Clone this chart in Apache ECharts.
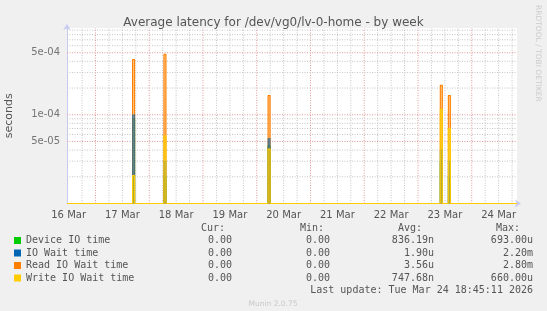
<!DOCTYPE html>
<html><head><meta charset="utf-8">
<script src="https://cdn.jsdelivr.net/npm/echarts@6/dist/echarts.min.js"></script>
<style>html,body{margin:0;padding:0;background:#f0f0f0}#c{width:547px;height:311px}</style>
</head><body><div id="c"></div>
<script>
// ---- data (hours since 16 Mar 00:00) ----
const seriesNames = ['Device IO time', 'IO Wait time', 'Read IO Wait time', 'Write IO Wait time'];
const seriesColors = ['#00cc00', '#0066b3', '#ff8000', '#ffcc00'];
const spikeHours = [41, 55, 101.5, 178.4, 182];
const deviceIO = [9.0e-5, 2.0e-5, 4.5e-5, 3.0e-5, 2.0e-5];
const ioWait   = [1.0e-4, 3.0e-5, 5.4e-5, 4.0e-5, 3.0e-5];
const readIO   = [4.2e-4, 4.8e-4, 1.65e-4, 2.15e-4, 1.65e-4];
const writeIO  = [2.07e-5, 5.8e-5, 4.1e-5, 1.15e-4, 7.0e-5];
const curVals = ['0.00', '0.00', '0.00', '0.00'];
const minVals = ['0.00', '0.00', '0.00', '0.00'];
const avgVals = ['836.19n', '1.90u', '3.56u', '747.68n'];
const maxVals = ['693.00u', '2.20m', '2.80m', '660.00u'];
const dayLabels = ['16 Mar', '17 Mar', '18 Mar', '19 Mar', '20 Mar', '21 Mar', '22 Mar', '23 Mar', '24 Mar'];
const dayLabelHours = [12, 36, 60, 84, 108, 132, 156, 180, 204];
const yLabelValues = [5e-5, 1e-4, 5e-4];
const yLabelTexts = ['5e-05', '1e-04', '5e-04'];
const yMinorValues = [2e-5, 3e-5, 4e-5, 6e-5, 7e-5, 8e-5, 9e-5, 2e-4, 3e-4, 4e-4, 6e-4, 7e-4, 8e-4, 9e-4];
const xMin = 11.27, xMax = 212.2;
const yMin = 1e-5, yMax = 9.5e-4;
const lastUpdate = 'Last update: Tue Mar 24 18:45:11 2026';
const FLOOR = yMin; // zero is clamped to the bottom of the log axis
const HALF = 0.45;

function spikeData(vals) {
  const d = [[xMin, FLOOR]];
  spikeHours.forEach((h, i) => {
    d.push([h - HALF, FLOOR], [h - HALF, vals[i]], [h + HALF, vals[i]], [h + HALF, FLOOR]);
  });
  d.push([xMax, FLOOR]);
  return d;
}

const minorGrid = { color: '#c4c4c4', type: [1, 1.5], width: 1 };
const minorGridV = { color: '#c4c4c4', type: [1, 1.5], width: 1 };
const majorGrid = { color: '#e29a9a', type: [1, 1.5], width: 1 };
const gridSeries = [];
for (let h = 18; h <= xMax; h += 6) {
  const isMajor = (h % 24 === 0);
  gridSeries.push({
    name: isMajor ? 'day grid' : 'six-hour grid',
    type: 'line', data: [[h, yMin], [h, yMax]], symbol: 'none', z: 1, silent: true,
    lineStyle: isMajor ? majorGrid : minorGridV
  });
}
yMinorValues.forEach(v => gridSeries.push({
  type: 'line', data: [[xMin, v], [xMax, v]], symbol: 'none', z: 1, silent: true, lineStyle: minorGrid
}));
yLabelValues.forEach(v => gridSeries.push({
  type: 'line', data: [[xMin, v], [xMax, v]], symbol: 'none', z: 2, silent: true, lineStyle: majorGrid
}));

const yLabelSeries = {
  type: 'scatter', data: yLabelValues.map(v => [xMin, v]), symbolSize: 0, silent: true, clip: false, z: 2,
  label: {
    show: true, position: 'left', distance: 7,
    formatter: p => yLabelTexts[p.dataIndex], color: '#555', fontSize: 10, fontFamily: 'DejaVu Sans'
  }
};

// drawing order: device, read, io wait (semi-transparent over read), write on top
const seriesZ = [3, 5, 4, 6];
const lineOpacity = [1, 0.55, 1, 1];
const areaOpacity = [0.45, 0.5, 0.45, 0.45];
const lineSeries = [deviceIO, ioWait, readIO, writeIO].map((vals, i) => ({
  name: seriesNames[i], type: 'line', data: spikeData(vals), symbol: 'none', z: seriesZ[i],
  lineStyle: { color: seriesColors[i], width: 1.1, opacity: lineOpacity[i] }, itemStyle: { color: seriesColors[i] },
  areaStyle: { origin: 'start', color: seriesColors[i], opacity: areaOpacity[i] }
}));

const font = 'DejaVu Sans Mono';
const txtColor = '#555';
const graphics = [];
const headerY = 228.5, rowY0 = 240.5, rowStep = 12.5;
[['Cur:', 225], ['Min:', 324], ['Avg:', 422], ['Max:', 520]].forEach(([t, x]) => {
  graphics.push({ type: 'text', x: x, y: headerY, style: { text: t, fill: txtColor, font: '10px ' + font, align: 'right', verticalAlign: 'middle' } });
});
seriesNames.forEach((n, i) => {
  const y = rowY0 + i * rowStep;
  graphics.push({ type: 'rect', shape: { x: 14, y: y - 3.5, width: 7, height: 7 }, style: { fill: seriesColors[i] } });
  graphics.push({ type: 'text', x: 26, y: y, style: { text: n, fill: txtColor, font: '10px ' + font, align: 'left', verticalAlign: 'middle' } });
  [[curVals, 232], [minVals, 330], [avgVals, 434], [maxVals, 533]].forEach(([arr, x]) => {
    graphics.push({ type: 'text', x: x, y: y, style: { text: arr[i], fill: txtColor, font: '10px ' + font, align: 'right', verticalAlign: 'middle' } });
  });
});
graphics.push({ type: 'text', x: 533, y: rowY0 + 4 * rowStep, style: { text: lastUpdate, fill: txtColor, font: '10px ' + font, align: 'right', verticalAlign: 'middle' } });
graphics.push({ type: 'text', x: 273, y: 304, style: { text: 'Munin 2.0.75', fill: '#c8c8c8', font: '7.5px DejaVu Sans', align: 'center', verticalAlign: 'middle' } });
graphics.push({ type: 'text', x: 538, y: 5, rotation: -Math.PI / 2, style: { text: 'RRDTOOL / TOBI OETIKER', fill: '#cccccc', font: '7.5px DejaVu Sans', align: 'left', verticalAlign: 'middle' } });

const chart = echarts.init(document.getElementById('c'), null, { renderer: 'canvas' });
chart.setOption({
  backgroundColor: '#f0f0f0',
  animation: false,
  title: {
    text: 'Average latency for /dev/vg0/lv-0-home - by week', left: 'center', top: 12,
    textStyle: { fontFamily: 'DejaVu Sans', fontSize: 12, fontWeight: 'normal', color: '#555' }
  },
  grid: { left: 67, right: 30, top: 28, bottom: 107.5, show: true, backgroundColor: '#ffffff', borderWidth: 0, outerBoundsMode: 'none', containLabel: false },
  xAxis: {
    type: 'value', min: xMin, max: xMax,
    axisLine: { show: true, lineStyle: { color: '#c8ccf0', width: 1 }, symbol: ['none', 'arrow'], symbolSize: [6, 6], symbolOffset: [0, 4] },
    axisTick: { show: false }, splitLine: { show: false },
    axisLabel: {
      customValues: dayLabelHours,
      formatter: v => dayLabels[dayLabelHours.indexOf(v)] || '',
      color: '#555', fontSize: 10, fontFamily: 'DejaVu Sans', margin: 7
    }
  },
  yAxis: {
    type: 'log', logBase: 10, min: yMin, max: yMax,
    name: 'seconds', nameLocation: 'middle', nameRotate: 90, nameGap: 52,
    nameTextStyle: { fontFamily: 'DejaVu Sans', fontSize: 11, color: '#555' },
    axisLine: { show: true, lineStyle: { color: '#c8ccf0', width: 1 }, symbol: ['none', 'arrow'], symbolSize: [6, 6], symbolOffset: [0, 4] },
    axisTick: { show: false }, splitLine: { show: false }, axisLabel: { show: false }
  },
  series: gridSeries.concat([yLabelSeries], lineSeries),
  graphic: graphics
});
</script></body></html>
